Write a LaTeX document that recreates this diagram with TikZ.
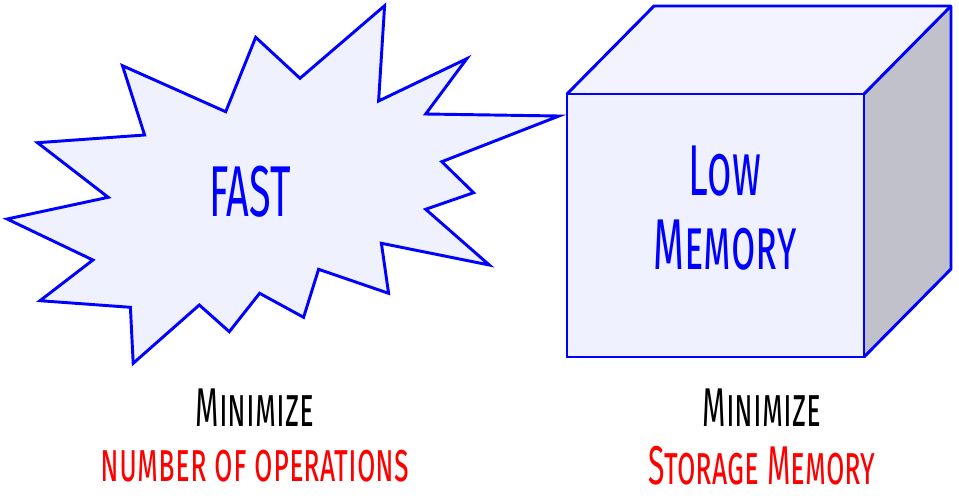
\documentclass[tikz,border=0pt]{standalone}
\usepackage{fontspec}
\usetikzlibrary{positioning}
\newfontfamily\handfont[FakeStretch=0.55]{Fira Sans}
\definecolor{burstblue}{RGB}{0,0,255}
\definecolor{burstfill}{RGB}{240,241,255}
\definecolor{cubetop}{RGB}{243,243,255}
\definecolor{cubeside}{RGB}{193,193,203}
\definecolor{labelred}{RGB}{255,0,0}
\tikzset{
  outline/.style={draw=burstblue,line width=2.2pt},
  bigtext/.style={text=burstblue,align=center,font=\handfont\fontsize{54}{56}\selectfont\scshape},
  captop/.style={text=black,font=\handfont\fontsize{41}{41}\selectfont\scshape},
  capbot/.style={text=labelred,font=\handfont\fontsize{41}{41}\selectfont\scshape}
}
\begin{document}
\begin{tikzpicture}[x=0.75pt,y=-0.75pt]
  \useasboundingbox (0,0) rectangle (959,500);
  % Starburst (fast)
  \draw[outline,fill=burstfill]
    (384.6,5.7) -- (378.6,101) -- (466.8,58.7) -- (425.7,114) -- (559,116)
    -- (441.8,161.7) -- (473.6,192.7) -- (425.7,209.3) -- (489.3,265)
    -- (381.4,243.3) -- (388.6,293.3) -- (318.6,269.3) -- (303.6,317.3)
    -- (259.6,293.3) -- (229.3,331.7) -- (199.3,305) -- (133.2,363.3)
    -- (130.4,307.3) -- (40,300.7) -- (92.9,260) -- (7.1,219)
    -- (108.2,197.3) -- (37.5,142.7) -- (144.6,135) -- (122.5,65.7)
    -- (225.7,111.7) -- (255.7,37.3) -- (300,78.3) -- cycle;
  \node[bigtext] (fast) at (250,192) {FAST};
  % Cube (memory)
  \coordinate (ftl) at (567,94);
  \coordinate (ftr) at (864,94);
  \coordinate (fbr) at (864,357);
  \coordinate (btl) at (654,6);
  \coordinate (btr) at (951,6);
  \coordinate (bbr) at (951,269);
  \fill[cubetop] (ftl) -- (btl) -- (btr) -- (ftr) -- cycle;
  \fill[cubeside] (ftr) -- (btr) -- (bbr) -- (fbr) -- cycle;
  \draw[outline,fill=burstfill] (ftl) rectangle (fbr);
  \draw[outline,line join=round] (ftl) -- (btl) -- (btr) -- (bbr) -- (fbr);
  \draw[outline] (ftr) -- (btr);
  \node[bigtext] (mem) at (725,208) {Low\\Memory};
  % Captions
  \node[captop] (minfast) at (255,408) {Minimize};
  \node[capbot] (ops) at (255,466) {number of operations};
  \node[captop] (minmem) at (762,408) {Minimize};
  \node[capbot] (store) at (762,466) {Storage Memory};
\end{tikzpicture}
\end{document}
